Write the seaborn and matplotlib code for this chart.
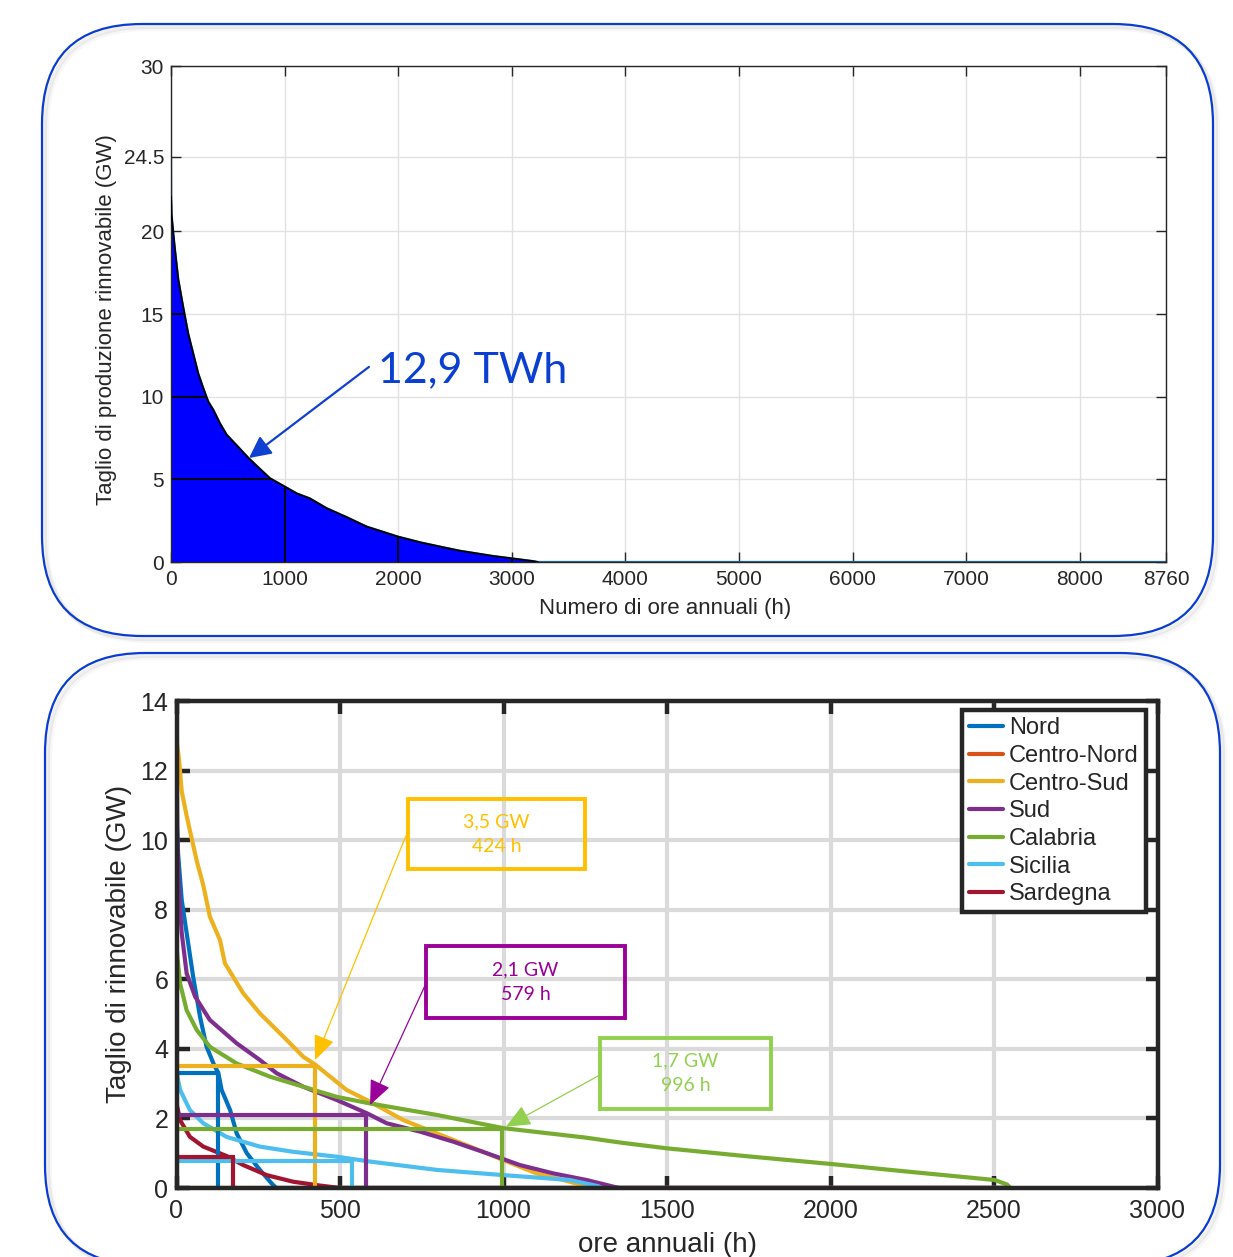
"""Curtailment duration curves: Italy total (top) and per market zone (bottom)."""

import matplotlib
matplotlib.use("Agg")
import matplotlib.pyplot as plt
import matplotlib.patches as mpatches
from matplotlib.transforms import IdentityTransform
import pandas as pd
import seaborn as sns

# ---- top panel: total curtailed renewable production (GW) vs hours
top_hours = [0, 1, 5, 20, 35, 64, 108, 152, 196, 240, 285, 328, 373, 430, 490, 590,
             681, 780, 872, 1004, 1106, 1221, 1371, 1538, 1723, 2001, 2200, 2397,
             2544, 2838, 3000, 3190, 3230, 8760]
top_gw = [24.5, 22.1, 21.0, 19.9, 18.9, 17.1, 15.4, 13.8, 12.6, 11.4, 10.5, 9.7, 9.2,
          8.4, 7.7, 6.97, 6.3, 5.65, 5.06, 4.55, 4.15, 3.85, 3.25, 2.74, 2.14, 1.53,
          1.18, 0.89, 0.68, 0.36, 0.22, 0.05, 0.0, 0.0]
top_xticks = [0, 1000, 2000, 3000, 4000, 5000, 6000, 7000, 8000, 8760]
top_yticks = [0, 5, 10, 15, 20, 24.5, 30]
top_ytick_labels = ["0", "5", "10", "15", "20", "24.5", "30"]
energy_label = "12,9 TWh"

# ---- bottom panel: per zone duration curves
zone_names = ["Nord", "Centro-Nord", "Centro-Sud", "Sud", "Calabria", "Sicilia", "Sardegna"]
zone_colors = ["#0072BD", "#D95319", "#EDB120", "#7E2F8E", "#77AC30", "#4DBEEE", "#A2142F"]

nord_h = [0, 5, 16, 31, 51, 72, 92, 113, 128, 138, 164, 184, 215, 255, 291, 305, 2550]
nord_gw = [10.7, 9.6, 8.28, 7.33, 6.07, 4.92, 4.06, 3.58, 3.30, 2.82, 2.24, 1.57, 1.0, 0.52, 0.13, 0, 0]
cnord_h = [0, 2550]
cnord_gw = [0, 0]
csud_h = [0, 8, 16, 31, 50, 62, 82, 102, 133, 148, 204, 255, 327, 388, 424, 520, 592,
          694, 796, 898, 1000, 1101, 1183, 1260, 1270, 2550]
csud_gw = [12.9, 12.3, 11.4, 10.7, 9.9, 9.4, 8.7, 7.8, 7.13, 6.46, 5.6, 5.02, 4.35, 3.77,
           3.55, 2.82, 2.48, 1.95, 1.57, 1.19, 0.8, 0.42, 0.23, 0.03, 0, 0]
sud_h = [0, 1, 2.5, 5, 9, 16, 31, 57, 102, 184, 255, 306, 388, 490, 582, 643, 745, 847,
         949, 1050, 1152, 1254, 1340, 1355, 2550]
sud_gw = [13.3, 12.0, 10.2, 9.2, 8.28, 7.33, 6.17, 5.5, 4.83, 4.16, 3.68, 3.3, 2.91, 2.53,
          2.15, 1.86, 1.62, 1.33, 1.0, 0.66, 0.42, 0.23, 0.03, 0, 0]
cal_h = [0, 11, 31, 62, 102, 184, 286, 388, 490, 592, 796, 1000, 1250, 1362, 1500, 1737,
         2002, 2237, 2502, 2540, 2550]
cal_gw = [6.9, 5.88, 5.11, 4.54, 4.06, 3.58, 3.2, 2.91, 2.62, 2.43, 2.1, 1.72, 1.45, 1.3,
          1.14, 0.92, 0.69, 0.47, 0.23, 0.1, 0]
sic_h = [0, 11, 41, 82, 153, 255, 357, 490, 592, 796, 1000, 1203, 1290, 1300, 2550]
sic_gw = [3.34, 2.82, 2.24, 1.86, 1.47, 1.19, 1.04, 0.9, 0.76, 0.52, 0.37, 0.23, 0.05, 0, 0]
sar_h = [0, 11, 41, 82, 153, 204, 276, 357, 439, 500, 2550]
sar_gw = [2.43, 1.95, 1.47, 1.19, 0.92, 0.66, 0.37, 0.18, 0.07, 0, 0]

zone_hours = [nord_h, cnord_h, csud_h, sud_h, cal_h, sic_h, sar_h]
zone_gw = [nord_gw, cnord_gw, csud_gw, sud_gw, cal_gw, sic_gw, sar_gw]

# threshold (cut) levels per zone: GW level and hours above it
thr_zones = ["Nord", "Centro-Sud", "Sud", "Calabria", "Sicilia", "Sardegna"]
thr_gw = [3.3, 3.5, 2.1, 1.7, 0.78, 0.88]
thr_hours = [128, 424, 579, 996, 537, 172]

# callouts: label, box (x0, x1, y0, y1), arrow tail, arrow tip, colour
callout_text = ["3,5 GW\n424 h", "2,1 GW\n579 h", "1,7 GW\n996 h"]
callout_box = [(708, 1249, 9.17, 11.18), (763, 1372, 4.89, 6.96), (1295, 1818, 2.27, 4.31)]
callout_tail = [(705, 10.2), (761, 5.84), (1295, 3.25)]
callout_tip = [(424, 3.68), (592, 2.39), (1007, 1.76)]
callout_color = ["#FFC000", "#990099", "#92D050"]

sns.set_theme(style="ticks")
plt.rcParams["font.family"] = ["Liberation Sans", "DejaVu Sans"]
INK = "#262626"

fig = plt.figure(figsize=(12.33, 12.57), dpi=100)
H = 1257


def panel_frame(x0, y0, x1, y1, r=100):
    """Rounded blue frame with a soft shadow, in image pixels (y from top)."""
    for off, a in [(5, 0.03), (3, 0.06)]:
        fig.add_artist(mpatches.FancyBboxPatch(
            (x0 + off, H - y1 - off), x1 - x0, y1 - y0,
            boxstyle=f"round,pad=0,rounding_size={r}", transform=IdentityTransform(),
            fc="none", ec="black", lw=3, alpha=a))
    fig.add_artist(mpatches.FancyBboxPatch(
        (x0, H - y1), x1 - x0, y1 - y0,
        boxstyle=f"round,pad=0,rounding_size={r}", transform=IdentityTransform(),
        fc="none", ec="#0a3cd0", lw=1.6))


panel_frame(42, 24, 1213, 636)
panel_frame(45, 653, 1220, 1265)

# ================= top panel =================
ax = fig.add_axes([171 / 1233, 1 - 562 / H, 995 / 1233, 496 / H])
ax.set_xlim(0, 8760)
ax.set_ylim(0, 30)
ax.set_axisbelow(True)
ax.grid(True, color="#e2e2e2", lw=1)

sns.lineplot(x=top_hours, y=top_gw, color="#1f6fae", lw=1.6, estimator=None, sort=False,
             ax=ax, zorder=1.5)
area = ax.fill_between(top_hours[1:], top_gw[1:], color="#0000ff", lw=0, zorder=2)
clip = area.get_paths()[0]
for yv in [5, 10, 15, 20]:
    ln = ax.axhline(yv, color="black", lw=1.3, zorder=2.5)
    ln.set_clip_path(clip, ax.transData)
for xv in [1000, 2000, 3000]:
    ln = ax.axvline(xv, color="black", lw=1.3, zorder=2.5)
    ln.set_clip_path(clip, ax.transData)
sns.lineplot(x=top_hours[1:-1], y=top_gw[1:-1], color="black", lw=1.3, estimator=None,
             sort=False, ax=ax, zorder=3)

ax.annotate("", xy=(687, 6.29), xytext=(1743, 11.8),
            arrowprops=dict(arrowstyle="-|>,head_length=0.6,head_width=0.3",
                            mutation_scale=22, color="#1040d0", lw=1.6,
                            shrinkA=0, shrinkB=0), zorder=4)
ax.text(1822, 10.9, energy_label, color="#0b3fd1", fontsize=31, family="Lato",
        ha="left", va="baseline")

ax.set_xticks(top_xticks)
ax.set_yticks(top_yticks)
ax.set_yticklabels(top_ytick_labels)
ax.tick_params(direction="in", length=7, width=1, colors=INK, labelsize=15,
               top=True, right=True, pad=6)
ax.tick_params(axis="y", pad=5)
for sp in ax.spines.values():
    sp.set_color(INK)
    sp.set_linewidth(1)
    sp.set_visible(True)
ax.set_xlabel("Numero di ore annuali (h)", fontsize=16, color=INK)
ax.set_ylabel("Taglio di produzione rinnovabile (GW)", fontsize=16, color=INK)
ax.xaxis.set_label_coords(0.4965, -0.072)
ax.yaxis.set_label_coords(-0.054, 0.488)

# ================= bottom panel =================
ax2 = fig.add_axes([176.5 / 1233, 1 - 1188 / H, 981 / 1233, 487 / H])
ax2.set_xlim(0, 3000)
ax2.set_ylim(0, 14)
ax2.set_axisbelow(True)
ax2.grid(True, color="#dadada", lw=3)

zones = pd.concat(
    [pd.DataFrame({"ore": h, "GW": g, "zona": z})
     for z, h, g in zip(zone_names, zone_hours, zone_gw)],
    ignore_index=True)
sns.lineplot(data=zones, x="ore", y="GW", hue="zona", hue_order=zone_names,
             palette=dict(zip(zone_names, zone_colors)), estimator=None, sort=False,
             lw=3, ax=ax2, zorder=2)

color_of = dict(zip(zone_names, zone_colors))
for z, g, h in zip(thr_zones, thr_gw, thr_hours):
    ax2.plot([0, h, h], [g, g, 0], color=color_of[z], lw=3, zorder=2.5,
             solid_joinstyle="miter")

for txt, (x0, x1, y0, y1), tail, tip, c in zip(callout_text, callout_box, callout_tail,
                                               callout_tip, callout_color):
    ax2.add_patch(mpatches.Rectangle((x0, y0), x1 - x0, y1 - y0, fill=False, ec=c,
                                     lw=2.8, zorder=4))
    ax2.text((x0 + x1) / 2, (y0 + y1) / 2, txt, color=c, fontsize=14, family="Lato",
             ha="center", va="center", linespacing=1.55, zorder=4)
    ax2.annotate("", xy=tip, xytext=tail,
                 arrowprops=dict(arrowstyle="-|>,head_length=0.7,head_width=0.3",
                                 mutation_scale=22, color=c, lw=0.9,
                                 shrinkA=0, shrinkB=0), zorder=4)

sns.move_legend(ax2, "upper right", bbox_to_anchor=(0.988, 0.981), title=None,
                frameon=True, fancybox=False, framealpha=1, fontsize=17,
                handlelength=1.45, handletextpad=0.25, labelspacing=0.24,
                borderpad=0.3, borderaxespad=0)
leg = ax2.get_legend()
leg.get_frame().set_edgecolor(INK)
leg.get_frame().set_linewidth(3.2)
for ln in leg.get_lines():
    ln.set_linewidth(3)

ax2.set_xticks([0, 500, 1000, 1500, 2000, 2500, 3000])
ax2.set_yticks([0, 2, 4, 6, 8, 10, 12, 14])
ax2.tick_params(direction="in", length=9, width=3.2, colors=INK, labelsize=18,
                top=True, right=True, pad=8)
ax2.tick_params(axis="y", pad=6)
for sp in ax2.spines.values():
    sp.set_color(INK)
    sp.set_linewidth(3.2)
    sp.set_visible(True)
ax2.set_xlabel("ore annuali (h)", fontsize=20, color=INK)
ax2.set_ylabel("Taglio di rinnovabile (GW)", fontsize=20, color=INK)
ax2.xaxis.set_label_coords(0.5, -0.09)
ax2.yaxis.set_label_coords(-0.045, 0.502)

fig.savefig("out.png", dpi=100)
